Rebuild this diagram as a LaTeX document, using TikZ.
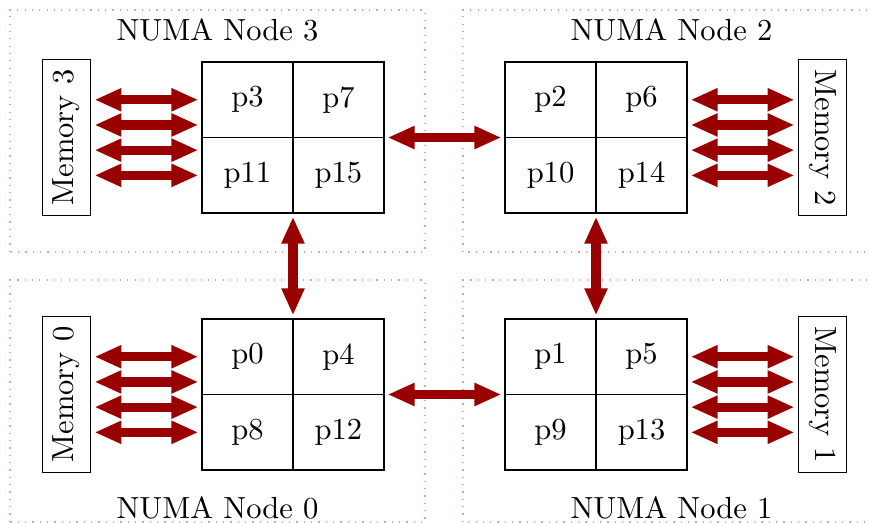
\documentclass[tikz,border=0pt]{standalone}
\usepackage{tikz}
\usetikzlibrary{positioning,arrows.meta,calc}
\definecolor{linkred}{HTML}{990000}
\definecolor{dotred}{HTML}{F09AA6}
\tikzset{
  cell/.style={draw,semithick,minimum width=1.047cm,minimum height=0.869cm,inner sep=0pt,outer sep=0pt},
  mem/.style={draw},
  link/.style={linkred,line width=3pt,{Triangle[length=8.8pt,width=7pt]}-{Triangle[length=8.8pt,width=7pt]},shorten <=1.2pt,shorten >=1.2pt},
  numabox/.style={draw=dotred,dotted},
}

\begin{document}
\begin{tikzpicture}
  \useasboundingbox (0,0) rectangle (10,6.018);
  % frames of the NUMA nodes
  \draw[numabox] (0.115,3.118) rectangle (4.89,5.903);
  \draw[numabox] (5.328,3.118) rectangle (10.13,5.903);
  \draw[numabox] (0.115,0.012) rectangle (4.89,2.796);
  \draw[numabox] (5.328,0.012) rectangle (10.13,2.796);
  \node (lbl3) at (2.503,5.673) {NUMA Node 3};
  \node (lbl2) at (7.727,5.673) {NUMA Node 2};
  \node (lbl0) at (2.503,0.172) {NUMA Node 0};
  \node (lbl1) at (7.727,0.172) {NUMA Node 1};
  % processor grids
  \foreach \n/\cx/\cy in {0/2.848/1.913,1/6.335/1.913,2/6.335/4.870,3/2.848/4.870}{
    \pgfmathtruncatemacro{\pb}{\n+4}
    \pgfmathtruncatemacro{\pc}{\n+8}
    \pgfmathtruncatemacro{\pd}{\n+12}
    \node[cell] (p\n) at (\cx,\cy) {p\n};
    \node[cell,right=0pt of p\n] (p\pb) {p\pb};
    \node[cell,below=0pt of p\n] (p\pc) {p\pc};
    \node[cell,right=0pt of p\pc] (p\pd) {p\pd};
  }
  % memories
  \node[mem] (mem3) at (0.765,4.436) {\rotatebox{90}{Memory 3}};
  \node[mem] (mem2) at (9.465,4.436) {\rotatebox{-90}{Memory 2}};
  \node[mem] (mem0) at (0.765,1.478) {\rotatebox{90}{Memory 0}};
  \node[mem] (mem1) at (9.465,1.478) {\rotatebox{-90}{Memory 1}};
  \foreach \k in {0,...,3}{
    \draw[link] ($(mem3.east |- p3.west)+(0,-0.29*\k)$) -- ($(p3.west)+(0,-0.29*\k)$);
    \draw[link] ($(mem0.east |- p0.west)+(0,-0.29*\k)$) -- ($(p0.west)+(0,-0.29*\k)$);
    \draw[link] ($(p6.east)+(0,-0.29*\k)$) -- ($(mem2.west |- p6.east)+(0,-0.29*\k)$);
    \draw[link] ($(p5.east)+(0,-0.29*\k)$) -- ($(mem1.west |- p5.east)+(0,-0.29*\k)$);
  }
  % interconnect
  \draw[link] (p7.south east) -- (p2.south west);
  \draw[link] (p4.south east) -- (p1.south west);
  \draw[link] (p11.south east) -- (p0.north east);
  \draw[link] (p10.south east) -- (p1.north east);
\end{tikzpicture}
\end{document}
